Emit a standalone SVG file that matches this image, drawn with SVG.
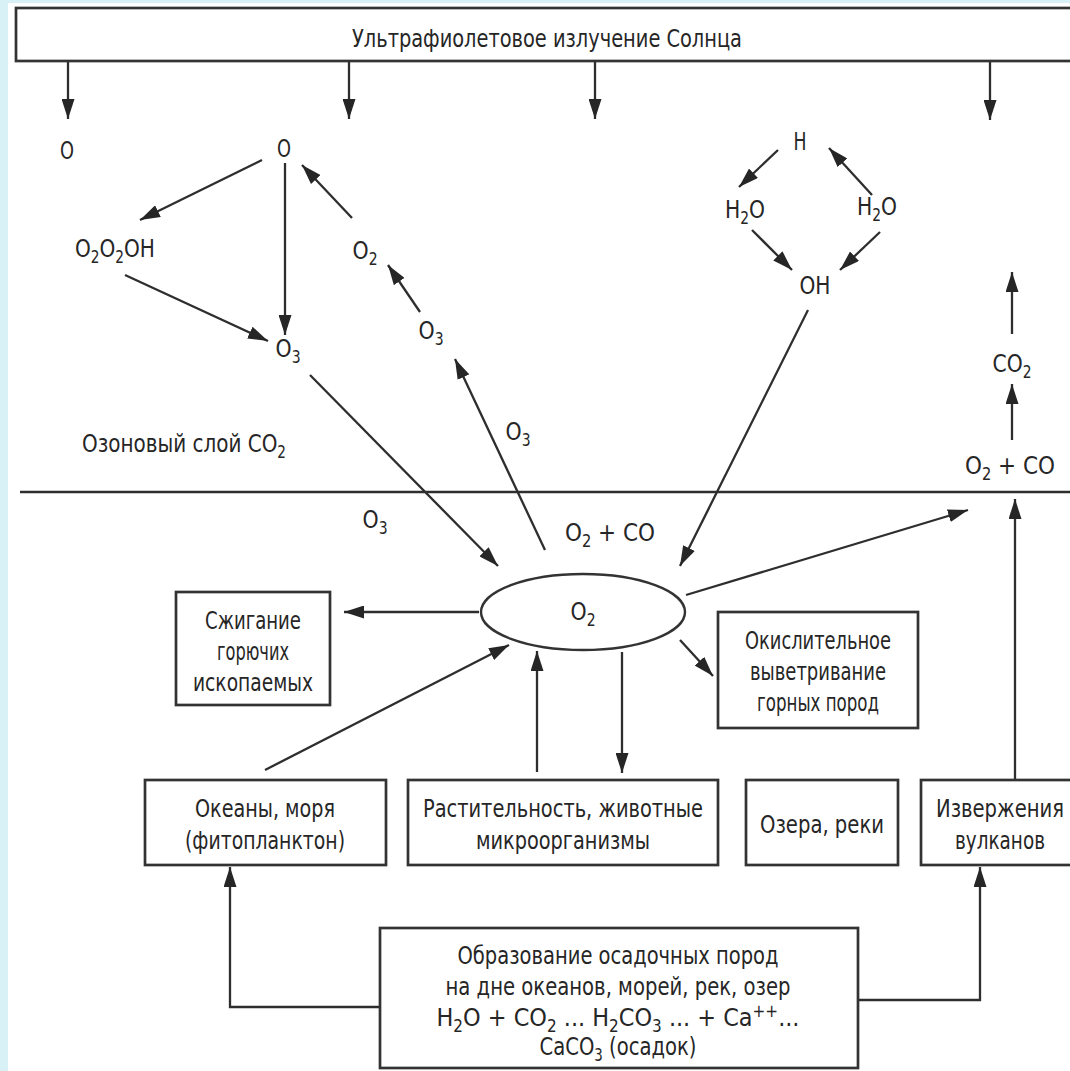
<svg xmlns="http://www.w3.org/2000/svg" width="1070" height="1071" viewBox="0 0 1070 1071">
<defs>
<marker id="ah" markerUnits="userSpaceOnUse" markerWidth="20" markerHeight="13" refX="20" refY="6.5" orient="auto">
<path d="M0,0 L20,6.5 L0,13 z" fill="#262626"/>
</marker>
</defs>
<style>
.t{font-family:"Liberation Sans Narrow","DejaVu Sans Condensed","DejaVu Sans",sans-serif;font-stretch:condensed;font-size:25px;fill:#262626;text-anchor:middle}
.s{font-size:17px}
.ln{stroke:#2e2e2e;stroke-width:2.3;fill:none}
.ar{marker-end:url(#ah)}
.box{fill:#fff;stroke:#333;stroke-width:2.7}
</style>
<rect x="0" y="0" width="1070" height="1071" fill="#fff"/>
<rect x="0" y="0" width="8" height="1071" fill="#d8f1f7"/>
<rect x="0" y="0" width="1070" height="3" fill="#d8f1f7"/>

<g id="connectors">
<line class="ln ar" x1="68" y1="61" x2="68" y2="119"/>
<line class="ln ar" x1="349" y1="61" x2="349" y2="119"/>
<line class="ln ar" x1="595" y1="61" x2="595" y2="119"/>
<line class="ln ar" x1="990" y1="61" x2="990" y2="120"/>
<line class="ln ar" x1="262" y1="160" x2="140" y2="220"/>
<line class="ln ar" x1="285" y1="163" x2="285" y2="335"/>
<line class="ln ar" x1="125" y1="275" x2="268" y2="341"/>
<line class="ln ar" x1="352" y1="218" x2="302" y2="165"/>
<line class="ln ar" x1="420" y1="312" x2="388" y2="265"/>
<line class="ln ar" x1="545" y1="550" x2="455" y2="359"/>
<line class="ln ar" x1="310" y1="375" x2="498" y2="566"/>
<line class="ln ar" x1="808" y1="310" x2="680" y2="566"/>
<line class="ln ar" x1="778" y1="150" x2="739" y2="187"/>
<line class="ln ar" x1="872" y1="195" x2="829" y2="148"/>
<line class="ln ar" x1="752" y1="230" x2="792" y2="270"/>
<line class="ln ar" x1="880" y1="232" x2="840" y2="270"/>
<line class="ln ar" x1="1012" y1="440" x2="1012" y2="384"/>
<line class="ln ar" x1="1012" y1="334" x2="1012" y2="272"/>
<line class="ln" x1="20" y1="492" x2="1070" y2="492"/>
<line class="ln ar" x1="479" y1="612" x2="344" y2="612"/>
<line class="ln ar" x1="680" y1="640" x2="713" y2="676"/>
<line class="ln ar" x1="686" y1="595" x2="968" y2="510"/>
<line class="ln ar" x1="265" y1="770" x2="509" y2="645"/>
<line class="ln ar" x1="537" y1="772" x2="537" y2="651"/>
<line class="ln ar" x1="622" y1="652" x2="622" y2="773"/>
<line class="ln ar" x1="1015" y1="780" x2="1015" y2="499"/>
<polyline class="ln ar" points="379,1007 230,1007 230,867"/>
<polyline class="ln ar" points="859,1000 980,1000 980,867"/>
</g>

<g id="uv">
<rect class="box" x="16" y="8" width="1070" height="53"/>
<text class="t" x="547" y="47" textLength="390" lengthAdjust="spacingAndGlyphs">Ультрафиолетовое излучение Солнца</text>
</g>
<g id="o-left"><text class="t" x="67" y="159" textLength="14" lengthAdjust="spacingAndGlyphs">O</text></g>
<g id="o-mid"><text class="t" x="284" y="157" textLength="14" lengthAdjust="spacingAndGlyphs">O</text></g>
<g id="o2o2oh"><text class="t" x="115" y="257" textLength="80" lengthAdjust="spacingAndGlyphs">O<tspan class="s" dy="6">2</tspan><tspan dy="-6">O</tspan><tspan class="s" dy="6">2</tspan><tspan dy="-6">OH</tspan></text></g>
<g id="o3-a"><text class="t" x="288" y="357" textLength="25" lengthAdjust="spacingAndGlyphs">O<tspan class="s" dy="6">3</tspan></text></g>
<g id="o2-b"><text class="t" x="365" y="259" textLength="25" lengthAdjust="spacingAndGlyphs">O<tspan class="s" dy="6">2</tspan></text></g>
<g id="o3-b"><text class="t" x="431" y="339" textLength="25" lengthAdjust="spacingAndGlyphs">O<tspan class="s" dy="6">3</tspan></text></g>
<g id="lbl-o3-up"><text class="t" x="518" y="440" textLength="25" lengthAdjust="spacingAndGlyphs">O<tspan class="s" dy="6">3</tspan></text></g>
<g id="lbl-ozone"><text class="t" x="184" y="452" textLength="204" lengthAdjust="spacingAndGlyphs">Озоновый слой CO<tspan class="s" dy="6">2</tspan></text></g>
<g id="lbl-o3-down"><text class="t" x="375" y="528" textLength="25" lengthAdjust="spacingAndGlyphs">O<tspan class="s" dy="6">3</tspan></text></g>
<g id="lbl-o2co"><text class="t" x="610" y="541" textLength="90" lengthAdjust="spacingAndGlyphs">O<tspan class="s" dy="6">2</tspan><tspan dy="-6"> + CO</tspan></text></g>

<g id="h"><text class="t" x="800" y="150" textLength="13" lengthAdjust="spacingAndGlyphs">H</text></g>
<g id="h2o-left"><text class="t" x="745" y="218" textLength="40" lengthAdjust="spacingAndGlyphs">H<tspan class="s" dy="6">2</tspan><tspan dy="-6">O</tspan></text></g>
<g id="h2o-right"><text class="t" x="877" y="215" textLength="40" lengthAdjust="spacingAndGlyphs">H<tspan class="s" dy="6">2</tspan><tspan dy="-6">O</tspan></text></g>
<g id="oh"><text class="t" x="815" y="294" textLength="31" lengthAdjust="spacingAndGlyphs">OH</text></g>

<g id="co2-right"><text class="t" x="1012" y="372" textLength="39" lengthAdjust="spacingAndGlyphs">CO<tspan class="s" dy="6">2</tspan></text></g>
<g id="o2co-right"><text class="t" x="1010" y="474" textLength="90" lengthAdjust="spacingAndGlyphs">O<tspan class="s" dy="6">2</tspan><tspan dy="-6"> + CO</tspan></text></g>

<g id="o2-center">
<ellipse cx="583" cy="612" rx="102" ry="38" fill="#fff" stroke="#333" stroke-width="2.4"/>
<text class="t" x="583" y="620" textLength="25" lengthAdjust="spacingAndGlyphs">O<tspan class="s" dy="6">2</tspan></text>
</g>

<g id="burning">
<rect class="box" x="176" y="592" width="154" height="113"/>
<text class="t" x="253" y="629" textLength="96" lengthAdjust="spacingAndGlyphs">Сжигание</text>
<text class="t" x="253" y="660" textLength="72" lengthAdjust="spacingAndGlyphs">горючих</text>
<text class="t" x="253" y="691" textLength="120" lengthAdjust="spacingAndGlyphs">ископаемых</text>
</g>
<g id="weathering">
<rect class="box" x="718" y="612" width="200" height="116"/>
<text class="t" x="818" y="649" textLength="146" lengthAdjust="spacingAndGlyphs">Окислительное</text>
<text class="t" x="818" y="680" textLength="136" lengthAdjust="spacingAndGlyphs">выветривание</text>
<text class="t" x="818" y="711" textLength="122" lengthAdjust="spacingAndGlyphs">горных пород</text>
</g>
<g id="oceans">
<rect class="box" x="145" y="780" width="241" height="85"/>
<text class="t" x="265" y="817" textLength="140" lengthAdjust="spacingAndGlyphs">Океаны, моря</text>
<text class="t" x="265" y="849" textLength="160" lengthAdjust="spacingAndGlyphs">(фитопланктон)</text>
</g>
<g id="biota">
<rect class="box" x="408" y="780" width="310" height="85"/>
<text class="t" x="563" y="817" textLength="280" lengthAdjust="spacingAndGlyphs">Растительность, животные</text>
<text class="t" x="563" y="849" textLength="174" lengthAdjust="spacingAndGlyphs">микроорганизмы</text>
</g>
<g id="lakes">
<rect class="box" x="746" y="780" width="152" height="85"/>
<text class="t" x="822" y="833" textLength="124" lengthAdjust="spacingAndGlyphs">Озера, реки</text>
</g>
<g id="volcano">
<rect class="box" x="921" y="780" width="160" height="85"/>
<text class="t" x="1000" y="817" textLength="128" lengthAdjust="spacingAndGlyphs">Извержения</text>
<text class="t" x="1000" y="849" textLength="90" lengthAdjust="spacingAndGlyphs">вулканов</text>
</g>
<g id="sediment">
<rect class="box" x="380" y="928" width="478" height="140"/>
<text class="t" x="618" y="964" textLength="321" lengthAdjust="spacingAndGlyphs">Образование осадочных пород</text>
<text class="t" x="618" y="995" textLength="345" lengthAdjust="spacingAndGlyphs">на дне океанов, морей, рек, озер</text>
<text class="t" x="618" y="1026" textLength="363" lengthAdjust="spacingAndGlyphs">H<tspan class="s" dy="6">2</tspan><tspan dy="-6">O + CO</tspan><tspan class="s" dy="6">2</tspan><tspan dy="-6"> ... H</tspan><tspan class="s" dy="6">2</tspan><tspan dy="-6">CO</tspan><tspan class="s" dy="6">3</tspan><tspan dy="-6"> ... + Ca</tspan><tspan class="s" dy="-9">++</tspan><tspan dy="9">...</tspan></text>
<text class="t" x="618" y="1055" textLength="157" lengthAdjust="spacingAndGlyphs">CaCO<tspan class="s" dy="6">3</tspan><tspan dy="-6"> (осадок)</tspan></text>
</g>
</svg>
